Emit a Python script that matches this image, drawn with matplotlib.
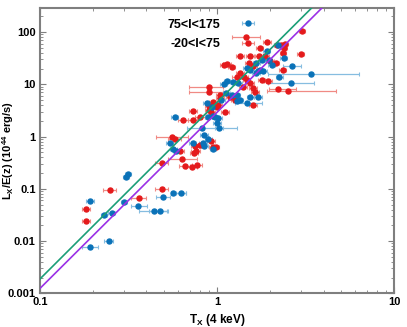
import numpy as np
import matplotlib
matplotlib.use("Agg")
import matplotlib.pyplot as plt

plt.rcParams["font.family"] = ["Liberation Sans", "DejaVu Sans"]
plt.rcParams["font.weight"] = "bold"
plt.rcParams["mathtext.fontset"] = "custom"
plt.rcParams["mathtext.rm"] = "Liberation Sans:bold"
plt.rcParams["mathtext.default"] = "rm"

# 75<l<175 sample (blue)
T_blue = [0.193, 0.245, 0.192, 0.299, 0.230, 0.254, 0.359, 0.441, 0.476, 0.305,
          0.315, 0.497, 0.567, 0.626, 0.542, 0.567, 0.587, 0.729, 0.837, 0.848,
          0.953, 0.845, 0.893, 0.820, 1.03, 1.00, 0.577, 0.893, 0.975, 1.02,
          0.946, 0.875, 0.933, 1.48, 1.06, 1.29, 1.13, 1.21, 1.29, 1.35,
          1.54, 1.71, 1.14, 1.09, 1.24, 1.32, 2.25, 2.61, 1.47, 1.54,
          1.66, 1.71, 1.75, 1.83, 3.38, 2.64, 1.97, 1.80, 1.67, 2.39,
          1.91, 2.20, 2.04]
L_blue = [0.0076, 0.0102, 0.0587, 0.0569, 0.0316, 0.035, 0.047, 0.0382, 0.0372, 0.171,
          0.190, 0.069, 0.0846, 0.0846, 0.748, 0.574, 0.53, 0.748, 0.767, 0.664,
          0.574, 1.08, 0.892, 1.45, 1.45, 1.81, 2.35, 2.35, 2.35, 2.25,
          2.49, 4.36, 3.66, 4.48, 5.05, 4.83, 6.78, 6.29, 6.29, 5.05,
          5.84, 5.84, 11.8, 10.2, 11.0, 10.5, 13.7, 10.8, 20.4, 19.0,
          16.4, 17.6, 19.0, 17.6, 15.9, 22.9, 29.5, 28.6, 25.5, 31.8,
          42.5, 55.4, 23.3]
Tlo_blue = [0.020, 0.015, 0.010, 0.012, 0.010, 0.012, 0.034, 0.08, 0.06, 0.012,
            0.012, 0.045, 0.02, 0.04, 0.025, 0.025, 0.025, 0.03, 0.04, 0.04,
            0.04, 0.04, 0.04, 0.14, 0.05, 0.05, 0.025, 0.04, 0.04, 0.05,
            0.04, 0.04, 0.04, 0.22, 0.05, 0.06, 0.05, 0.06, 0.06, 0.06,
            0.07, 0.08, 0.05, 0.05, 0.06, 0.06, 0.10, 0.67, 0.07, 0.07,
            0.08, 0.08, 0.08, 0.08, 1.44, 0.28, 0.09, 0.08, 0.08, 0.11,
            0.09, 0.10, 0.09]
Thi_blue = [0.020, 0.013, 0.010, 0.012, 0.010, 0.012, 0.042, 0.08, 0.05, 0.012,
            0.012, 0.045, 0.10, 0.04, 0.025, 0.025, 0.025, 0.03, 0.04, 0.04,
            0.04, 0.04, 0.04, 0.48, 0.05, 0.05, 0.025, 0.04, 0.04, 0.05,
            0.04, 0.04, 0.04, 0.32, 0.05, 0.06, 0.05, 0.06, 0.06, 0.06,
            0.07, 0.08, 0.05, 0.05, 0.06, 0.06, 0.10, 0.94, 0.07, 0.07,
            0.08, 0.08, 0.08, 0.08, 3.0, 0.36, 0.09, 0.08, 0.08, 0.11,
            0.09, 0.10, 0.09]

# -20<l<75 sample (red)
T_red = [0.182, 0.182, 0.248, 0.361, 0.487, 0.487, 0.632, 0.659, 0.719, 0.774,
         0.618, 0.741, 0.758, 0.751, 0.801, 0.953, 0.983, 0.555, 0.579, 0.925,
         0.646, 0.729, 0.801, 0.735, 0.904, 0.921, 1.11, 0.904, 0.996, 0.953,
         1.02, 1.04, 1.04, 1.18, 1.26, 1.60, 0.898, 0.898, 1.40, 1.60,
         1.64, 2.20, 2.53, 1.79, 1.95, 1.47, 1.54, 1.35, 1.43, 1.29,
         2.35, 1.21, 1.60, 1.14, 1.10, 1.52, 1.99, 2.15, 1.35, 1.54,
         1.73, 1.87, 2.97, 2.39, 2.37, 1.75, 2.42, 1.92, 1.45, 3.01,
         2.19, 2.29]
L_red = [0.041, 0.0243, 0.0953, 0.068, 0.098, 0.309, 0.374, 0.275, 0.259, 0.283,
         0.532, 0.494, 0.539, 0.664, 0.694, 0.626, 0.643, 1.0, 0.904, 0.83,
         2.09, 2.09, 2.35, 3.15, 3.25, 3.01, 3.01, 3.87, 3.76, 4.68,
         4.05, 6.29, 5.44, 5.84, 5.05, 4.05, 9.07, 7.28, 9.07, 8.45,
         7.28, 8.09, 7.5, 12.2, 11.8, 12.2, 10.5, 16.4, 14.1, 14.1,
         18.4, 21.4, 22.6, 24.7, 23.7, 25.5, 27.4, 25.5, 35.6, 35.6,
         35.6, 35.6, 38.4, 49.4, 40.6, 49.4, 59.7, 64.3, 80.2, 107,
         56.6, 56.6]
Tlo_red = [0.010, 0.010, 0.020, 0.035, 0.04, 0.04, 0.10, 0.05, 0.05, 0.05,
           0.03, 0.04, 0.04, 0.04, 0.04, 0.05, 0.05, 0.10, 0.05, 0.05,
           0.04, 0.04, 0.05, 0.04, 0.05, 0.05, 0.06, 0.05, 0.05, 0.05,
           0.05, 0.05, 0.05, 0.06, 0.06, 0.08, 0.20, 0.20, 0.07, 0.08,
           0.08, 0.22, 0.60, 0.09, 0.10, 0.07, 0.08, 0.07, 0.07, 0.07,
           0.10, 0.06, 0.08, 0.06, 0.06, 0.08, 0.10, 0.10, 0.07, 0.08,
           0.08, 0.09, 0.12, 0.10, 0.10, 0.08, 0.10, 0.09, 0.23, 0.12,
           0.10, 0.10]
Thi_red = [0.010, 0.010, 0.020, 0.035, 0.04, 0.04, 0.14, 0.05, 0.05, 0.05,
           0.03, 0.04, 0.04, 0.04, 0.04, 0.05, 0.05, 0.13, 0.05, 0.05,
           0.04, 0.04, 0.05, 0.04, 0.05, 0.05, 0.06, 0.05, 0.05, 0.05,
           0.05, 0.05, 0.05, 0.06, 0.06, 0.08, 0.18, 0.18, 0.07, 0.08,
           0.08, 0.60, 2.2, 0.09, 0.10, 0.07, 0.08, 0.07, 0.07, 0.07,
           0.10, 0.06, 0.08, 0.06, 0.06, 0.08, 0.10, 0.10, 0.07, 0.08,
           0.08, 0.09, 0.12, 0.10, 0.10, 0.08, 0.10, 0.09, 0.30, 0.12,
           0.10, 0.10]

# best-fit power laws L = norm * T**slope
fit_norm = [4.5, 2.9]
fit_slope = [3.38, 3.37]
fit_colors = ["#1b9e77", "#9b30e6"]

fig = plt.figure(figsize=(4.07, 3.27), dpi=100)
ax = fig.add_axes([0.098, 0.103, 0.870, 0.874])

ax.errorbar(T_red, L_red, xerr=[Tlo_red, Thi_red], fmt="o", ms=3.6,
            color="#e41a1c", ecolor="#f08a84", elinewidth=0.9, capsize=1.5,
            capthick=0.8, label="-20<l<75", zorder=3)
ax.errorbar(T_blue, L_blue, xerr=[Tlo_blue, Thi_blue], fmt="o", ms=3.6,
            color="#0a72b8", ecolor="#86bde0", elinewidth=0.9, capsize=1.5,
            capthick=0.8, label="75<l<175", zorder=3)

tt = np.logspace(-1, 1, 200)
for n, s, c in zip(fit_norm, fit_slope, fit_colors):
    ax.plot(tt, n * tt ** s, color=c, lw=1.2, zorder=4)

ax.set_xscale("log")
ax.set_yscale("log")
ax.set_xlim(0.1, 10)
ax.set_ylim(0.001, 295)
ax.set_xticks([0.1, 1, 10])
ax.set_xticklabels(["0.1", "1", "10"])
ax.set_yticks([0.001, 0.01, 0.1, 1, 10, 100])
ax.set_yticklabels(["0.001", "0.01", "0.1", "1", "10", "100"])

for sp in ax.spines.values():
    sp.set_color("#7f7f7f")
    sp.set_linewidth(1.5)
ax.tick_params(which="both", direction="in", top=True, right=True,
               color="#7f7f7f", labelsize=8)
ax.tick_params(which="major", length=4, width=0.8, pad=3)
ax.tick_params(which="minor", length=2.5, width=0.6)

ax.set_xlabel("T$_X$ (4 keV)", fontsize=8.5, fontweight="bold")
ax.set_ylabel("L$_X$/E(z) (10$^{44}$ erg/s)", fontsize=8, fontweight="bold")
ax.xaxis.set_label_coords(0.5, -0.065)
ax.yaxis.set_label_coords(-0.068, 0.5)

handles, labels = ax.get_legend_handles_labels()
leg = ax.legend(handles[::-1], labels[::-1], loc="upper left",
                bbox_to_anchor=(0.33, 1.0), frameon=False, markerfirst=False,
                fontsize=9, handlelength=2.8, labelspacing=0.6)
for t in leg.get_texts():
    t.set_fontweight("bold")

fig.savefig("out.png", dpi=100)
